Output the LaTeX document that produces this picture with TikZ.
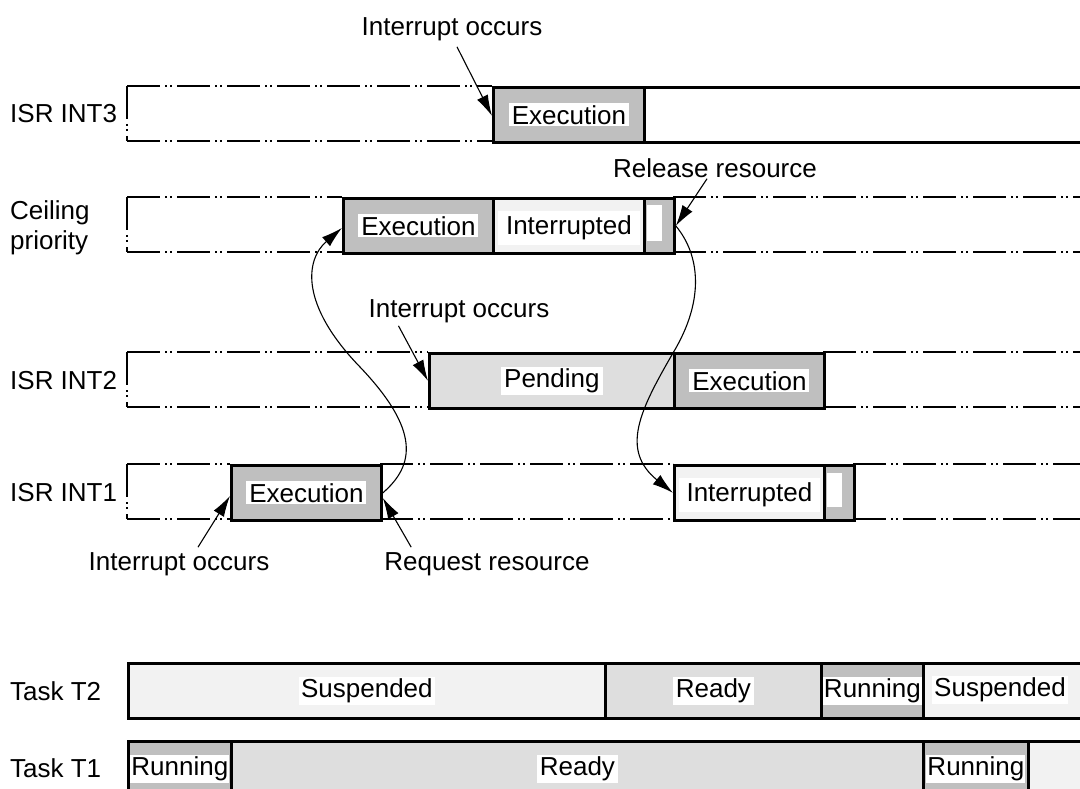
\documentclass[tikz,border=0pt]{standalone}
\usepackage{fontspec}
\setmainfont{Liberation Sans}
\usetikzlibrary{arrows.meta}
\definecolor{dense}{gray}{0.75}
\definecolor{medium}{gray}{0.87}
\definecolor{sparse}{gray}{0.95}
\newcommand{\fs}{\fontsize{26}{30}\selectfont}
\newcommand{\segbox}[5]{% name, x1, x2, ytop, fill
  \node[box, fill=#5, minimum width={(#3-#2)*1pt}] (#1) at (#2,#4) {};}
\tikzset{
  box/.style={draw, line width=2.8pt, inner sep=0pt, anchor=north west, minimum height=55pt},
  lbl/.style={fill=white, inner xsep=3pt, inner ysep=2pt, font=\fs},
  wlbl/.style={fill=white, inner xsep=8pt, inner ysep=5pt, font=\fs},
  txt/.style={font=\fs, inner sep=0pt},
  rowline/.style={line width=1.5pt, dash pattern=on 33pt off 5pt on 2pt off 3pt on 2pt off 5pt},
  arr/.style={-{Latex[length=21pt,width=12pt]}, line width=1.1pt},
}
\begin{document}
\begin{tikzpicture}[x=1pt,y=-1pt]
\useasboundingbox (0,0) rectangle (1080,789);
\clip (0,0) rectangle (1080,789);

% ---------- row labels
\node[txt, anchor=west] (r3) at (10,114) {ISR INT3};
\node[txt, anchor=west, align=left] (rc) at (10,228) {Ceiling\\priority};
\node[txt, anchor=west] (r2) at (10,381) {ISR INT2};
\node[txt, anchor=west] (r1) at (10,493) {ISR INT1};
\node[txt, anchor=west] (t2) at (10,691) {Task T2};
\node[txt, anchor=west] (t1) at (10,768) {Task T1};

% ---------- dash-dot row outlines
% INT3
\draw[rowline] (127,86) -- (492,86);
\draw[rowline] (127,141) -- (492,141);
\draw[rowline] (127,86) -- (127,141);
% Ceiling
\draw[rowline] (127,197) -- (342,197);
\draw[rowline] (127,252) -- (342,252);
\draw[rowline] (127,197) -- (127,252);
\draw[rowline] (673,197) -- (1080,197);
\draw[rowline] (673,252) -- (1080,252);
% INT2
\draw[rowline] (127,352) -- (428,352);
\draw[rowline] (127,407) -- (428,407);
\draw[rowline] (127,352) -- (127,407);
\draw[rowline] (823,352) -- (1080,352);
\draw[rowline] (823,407) -- (1080,407);
% INT1
\draw[rowline] (127,464) -- (230,464);
\draw[rowline] (127,519) -- (230,519);
\draw[rowline] (127,464) -- (127,519);
\draw[rowline] (380,464) -- (673,464);
\draw[rowline] (380,519) -- (673,519);
\draw[rowline] (853,464) -- (1080,464);
\draw[rowline] (853,519) -- (1080,519);

% ---------- ISR INT3
\segbox{i3e}{492}{643}{86}{dense}
\segbox{i3w}{643}{1095}{86}{white}
\node[lbl] (li3e) at (i3e.center) {Execution};

% ---------- Ceiling priority
\segbox{ce}{342}{492}{197}{dense}
\segbox{ci}{492}{643}{197}{sparse}
\segbox{cs}{643}{673}{197}{dense}
\node[lbl] (lce) at (ce.center) {Execution};
\node[wlbl] (lci) at ([yshift=-2pt]ci.center) {Interrupted};
\node[fill=white, inner sep=0pt, minimum width=15pt, minimum height=36pt] (wcs) at (654.5,223) {};

% ---------- ISR INT2
\segbox{p2}{428}{673}{352}{medium}
\segbox{e2}{673}{823}{352}{dense}
\node[lbl] (lp2) at (p2.center) {Pending};
\node[lbl] (le2) at (e2.center) {Execution};

% ---------- ISR INT1
\segbox{e1}{230}{380}{464}{dense}
\segbox{i1}{673}{823}{464}{sparse}
\segbox{s1}{823}{853}{464}{dense}
\node[lbl] (le1) at (e1.center) {Execution};
\node[wlbl] (li1) at ([yshift=-2pt]i1.center) {Interrupted};
\node[fill=white, inner sep=0pt, minimum width=15pt, minimum height=34pt] (ws1) at (834.5,490) {};

% ---------- Task T2
\segbox{t2a}{127}{604}{662}{sparse}
\segbox{t2b}{604}{820}{662}{medium}
\segbox{t2c}{820}{922}{662}{dense}
\segbox{t2d}{922}{1095}{662}{sparse}
\node[lbl, inner xsep=2pt] (lt2a) at (t2a.center) {Suspended};
\node[lbl] (lt2b) at (t2b.center) {Ready};
\node[lbl, inner xsep=1pt] (lt2c) at (t2c.center) {Running};
\node[lbl, inner xsep=2pt] (lt2d) at (1000,690) {Suspended};

% ---------- Task T1
\segbox{t1a}{127}{230}{740}{dense}
\segbox{t1b}{230}{922}{740}{medium}
\segbox{t1c}{922}{1027}{740}{dense}
\segbox{t1d}{1027}{1095}{740}{sparse}
\node[lbl, inner xsep=1pt] (lt1a) at (t1a.center) {Running};
\node[lbl] (lt1b) at (t1b.center) {Ready};
\node[lbl, inner xsep=1pt] (lt1c) at (t1c.center) {Running};

% ---------- annotations
\node[txt] (a1) at (452,29) {Interrupt occurs};
\node[txt] (a2) at (715,168) {Release resource};
\node[txt] (a3) at (459,311) {Interrupt occurs};
\node[txt] (a4) at (179,564) {Interrupt occurs};
\node[txt] (a5) at (487,564) {Request resource};

\draw[arr] ([xshift=5pt,yshift=-6pt]a1.south) -- ([yshift=-1pt]i3e.west);
\draw[arr] ([xshift=-8pt,yshift=-1pt]a2.south) -- (cs.east);
\draw[arr] ([xshift=30pt,yshift=-3pt]a3.south west) -- (p2.west);
\draw[arr] ([xshift=19pt,yshift=5pt]a4.north) -- ([yshift=-3pt]e1.west);
\draw[arr] ([xshift=27pt,yshift=5pt]a5.north west) -- ([yshift=-5pt]e1.east);

% ---------- resource curves
\draw[arr] (e1.east) .. controls (415,465) and (420,430) .. (360,367)
  .. controls (300,305) and (305,260) .. ([yshift=-2pt]ce.west);
\draw[arr] (cs.east) .. controls (700,255) and (705,300) .. (673,353)
  .. controls (640,410) and (620,450) .. (i1.west);
\end{tikzpicture}
\end{document}
